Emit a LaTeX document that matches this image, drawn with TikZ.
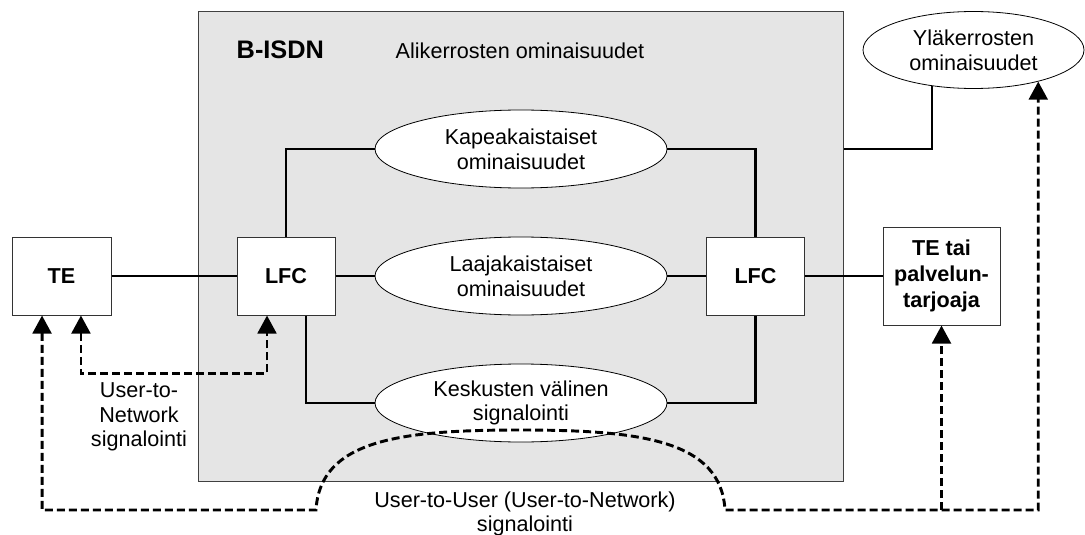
\documentclass[tikz,border=0pt]{standalone}
\usepackage{fontspec}
\setmainfont{Liberation Sans}
\usetikzlibrary{shapes.geometric,arrows.meta}

\begin{document}
\begin{tikzpicture}[x=0.75pt,y=-0.75pt,>={Triangle[length=13.5pt,width=14pt]},
	every node/.style={font=\fontsize{16.2}{18.5}\selectfont},
	ryhma/.style={draw=black!75,fill=black!10,line width=0.75pt,minimum width=483.75pt,minimum height=351.75pt,inner sep=0pt},
	laatikko/.style={draw=black!80,fill=white,line width=0.75pt,minimum width=73.5pt,minimum height=58.5pt,inner sep=0pt,align=center,font=\fontsize{16.2}{19.5}\selectfont\bfseries},
	soikio/.style={ellipse,draw,fill=white,line width=0.6pt,minimum width=219pt,minimum height=58.5pt,inner sep=0pt,align=center},
	yhteys/.style={line width=2.2pt},
	signaali/.style={line width=2.2pt,dash pattern=on 6pt off 3pt}]
	\useasboundingbox (0,0) rectangle (1085,535);

	\node[ryhma] (bisdn) at (520.5,246.5) {};
	\node[anchor=west,font=\fontsize{19}{22}\selectfont\bfseries] (nimi) at (232,50) {B-ISDN};
	\node (ali) at (520,51) {Alikerrosten ominaisuudet};

	\node[laatikko,minimum width=74.25pt] (te) at (61.5,276) {TE};
	\node[laatikko] (lfcv) at (286,276) {LFC};
	\node[laatikko] (lfco) at (755.5,276) {LFC};
	\node[laatikko,minimum width=87.75pt,minimum height=73.5pt] (tetai) at (941.5,276) {TE tai\\palvelun-\\tarjoaja};

	\node[soikio] (kapea) at (521,149) {Kapeakaistaiset\\ominaisuudet};
	\node[soikio] (laaja) at (521,276) {Laajakaistaiset\\ominaisuudet};
	\node[soikio] (kesk) at (521,403) {Keskusten välinen\\signalointi};
	\node[soikio,minimum width=165.75pt,minimum height=57.75pt] (yla) at (973.5,50) {Yläkerrosten\\ominaisuudet};

	\draw[yhteys] (te.east) -- (lfcv.west);
	\draw[yhteys] (lfcv.east) -- (laaja.west);
	\draw[yhteys] (laaja.east) -- (lfco.west);
	\draw[yhteys] (lfco.east) -- (tetai.west);
	\draw[yhteys] (lfcv.north) |- (kapea.west);
	\draw[yhteys] (kapea.east) -| (lfco.north);
	\draw[yhteys] ([xshift=15pt]lfcv.south) |- (kesk.west);
	\draw[yhteys] (kesk.east) -| (lfco.south);
	\draw[yhteys] (yla.221) |- (kapea.east -| bisdn.east);

	\node[align=center] (u2n) at (139,417) {User-to-\\Network\\signalointi};
	\node[align=center] (u2u) at (525,514) {User-to-User (User-to-Network)\\signalointi};

	\coordinate (kaariV) at (316,510);
	\coordinate (huippu) at (520,430);
	\coordinate (kaariO) at (725,510);
	\draw[signaali,<->] ([xshift=14.6pt]te.south) -- ++(0,58) -| ([xshift=-14.25pt]lfcv.south);
	\draw[signaali,<->] ([xshift=-14.6pt]te.south) |- (kaariV) .. controls +(4,-70) and +(-120,0) .. (huippu) .. controls +(120,0) and +(-4,-70) .. (kaariO) -| (yla.-26);
	\draw[signaali,->] (kaariO -| tetai.south) -- (tetai.south);
\end{tikzpicture}
\end{document}
